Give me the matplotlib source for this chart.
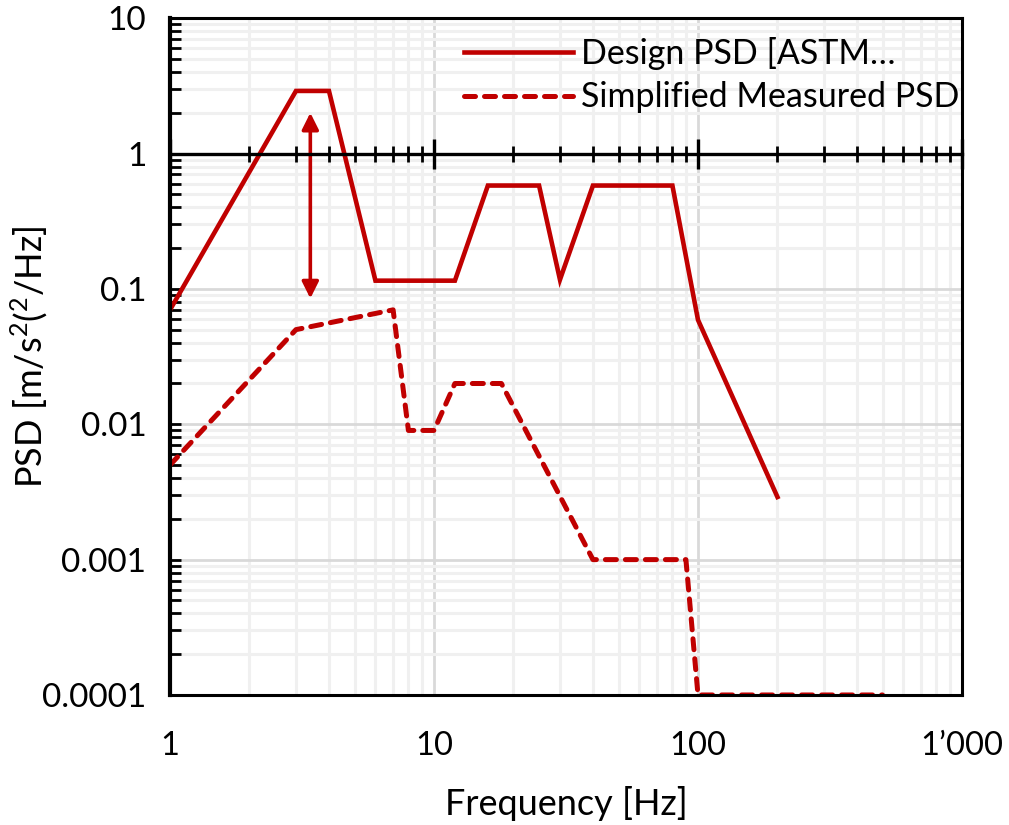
import numpy as np
import matplotlib.pyplot as plt
from matplotlib.ticker import FixedLocator, LogLocator, NullFormatter

# design PSD (solid) and simplified measured PSD (dashed)
design_f = [1, 3, 4, 6, 12, 16, 25, 30, 40, 80, 100, 200]
design_psd = [0.07, 2.9, 2.9, 0.115, 0.115, 0.58, 0.58, 0.117, 0.58, 0.58, 0.059, 0.0029]

meas_f = [1, 3, 7, 8, 10, 12, 18, 40, 90, 100, 500]
meas_psd = [0.005, 0.05, 0.07, 0.009, 0.009, 0.02, 0.02, 0.001, 0.001, 0.0001, 0.0001]

arrow_f = 3.4
arrow_lo, arrow_hi = 0.085, 2.0

xticks = [1, 10, 100, 1000]
xticklabels = ["1", "10", "100", "1\u2019000"]
yticks = [0.0001, 0.001, 0.01, 0.1, 1, 10]
yticklabels = ["0.0001", "0.001", "0.01", "0.1", "1", "10"]

red = "#C00000"
plt.rcParams['font.family'] = ['Lato', 'DejaVu Sans']
plt.rcParams['mathtext.fontset'] = 'custom'
plt.rcParams['mathtext.rm'] = 'Lato'

L, B, R, T = 0.1685, 0.1576, 0.9534, 0.978
fig = plt.figure(figsize=(10.09, 8.25), dpi=100)
ax = fig.add_axes([L, B, R - L, T - B])
ax.set_xscale('log')
ax.set_yscale('log')
ax.set_xlim(1, 1000)
ax.set_ylim(1e-4, 10)

ax.grid(True, which='minor', color='#f0f0f0', lw=2.2, zorder=0)
ax.grid(True, which='major', color='#d9d9d9', lw=2.0, zorder=0)
ax.set_axisbelow(True)

ax.plot(design_f, design_psd, color=red, lw=3.3, solid_joinstyle='miter',
        label="Design PSD [ASTM\u2026")
ax.plot(meas_f, meas_psd, color=red, lw=3.6, ls=(0, (2.2, 1.8)),
        dash_capstyle='round', label="Simplified Measured PSD")

ax.annotate('', xy=(arrow_f, arrow_hi), xytext=(arrow_f, arrow_lo),
            arrowprops=dict(arrowstyle='<|-|>', color=red, lw=2.6,
                            mutation_scale=25, shrinkA=0, shrinkB=0))

for s in ax.spines.values():
    s.set_linewidth(2.2)
    s.set_color('black')
ax.spines['left'].set_linewidth(3)

ax.xaxis.set_major_locator(FixedLocator(xticks))
ax.set_xticklabels(xticklabels)
ax.xaxis.set_minor_formatter(NullFormatter())
ax.tick_params(axis='x', which='both', length=0, pad=26, labelsize=23.5)

ax.yaxis.set_major_locator(FixedLocator(yticks))
ax.set_yticklabels(yticklabels)
ax.yaxis.set_minor_locator(LogLocator(base=10, subs=np.arange(2, 10)))
ax.yaxis.set_minor_formatter(NullFormatter())
ax.tick_params(axis='y', which='both', direction='in', length=8, width=2,
               pad=17, labelsize=24)

# horizontal axis line crossing at y = 1
y1 = B + (T - B) * 0.8
hx = fig.add_axes([L, y1, R - L, 1e-6])
hx.set_xscale('log')
hx.set_xlim(1, 1000)
hx.patch.set_visible(False)
for k in ['top', 'left', 'right']:
    hx.spines[k].set_visible(False)
hx.spines['bottom'].set_linewidth(2.4)
hx.set_yticks([])
hx.xaxis.set_major_locator(FixedLocator(xticks))
hx.xaxis.set_minor_locator(LogLocator(base=10, subs=np.arange(2, 10)))
hx.tick_params(axis='x', which='both', labelbottom=False)
hx.tick_params(which='major', direction='inout', length=22, width=2.4)
hx.tick_params(which='minor', direction='inout', length=11, width=2)

ax.set_xlabel("Frequency [Hz]", fontsize=26, labelpad=18)
ax.set_ylabel("PSD [m/s$^2$($^2$/Hz]", fontsize=26)
ax.yaxis.set_label_coords(-0.152, 0.5)

ax.legend(loc='upper right', bbox_to_anchor=(1.027, 1.008), frameon=False,
          fontsize=24.5, handlelength=3.2, handletextpad=0.25, labelspacing=0.35,
          borderaxespad=0.3)

fig.savefig("out.png", dpi=100)
